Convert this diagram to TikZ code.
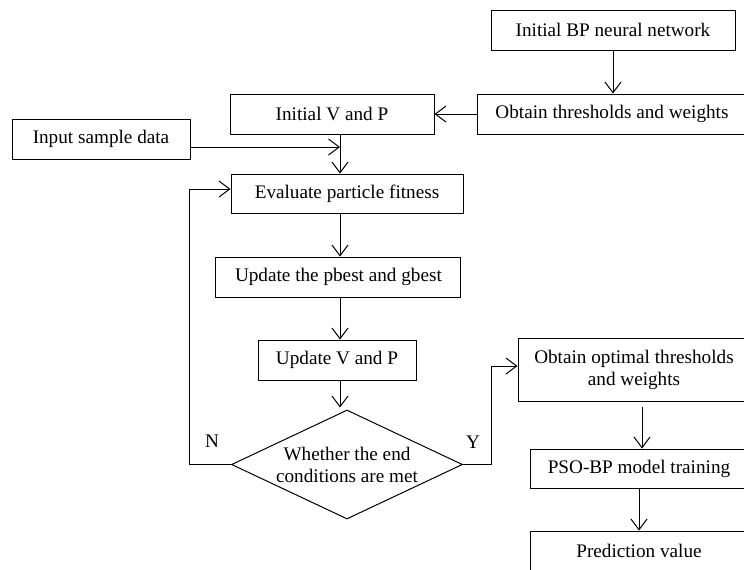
\documentclass[tikz,border=0pt]{standalone}
\usepackage{fontspec}
\setmainfont{Liberation Serif}
\usetikzlibrary{positioning,shapes.geometric,arrows.meta}

\begin{document}
\begin{tikzpicture}[x=0.75pt,y=-0.75pt,line width=0.75pt,
    >={Straight Barb[length=8pt,width=12pt]},
    every node/.style={font=\fontsize{14.4}{16.5}\selectfont},
    box/.style={draw,rectangle,minimum height=30pt,inner sep=2pt,align=center},
    decision/.style={draw,diamond,aspect=2,inner sep=-20pt,align=center}]
            \useasboundingbox (0,0) rectangle (744,569);
            \node[box,minimum width=183pt] (initbp) at (613,30) {Initial BP neural network};
            \node[box,minimum width=202.5pt,below=32.25pt of initbp,xshift=-0.75pt] (obtain) {Obtain thresholds and weights};
            \node[box,minimum width=153pt,left=31.5pt of obtain] (initvp) {Initial V and P};
            \node[box,minimum width=133.5pt] (input) at (101,139) {Input sample data};
            \node[box,minimum width=174pt,minimum height=29.25pt] (eval) at (347,193.5) {Evaluate particle fitness};
            \node[box,minimum width=183.75pt,below=32.25pt of eval,xshift=-6.4pt] (pbest) {Update the pbest and gbest};
            \node[box,minimum width=118.5pt,below=31.5pt of pbest,xshift=-1.1pt] (updvp) {Update V and P};
            \node[decision,minimum width=173.25pt,minimum height=81.75pt,below=21.75pt of updvp,xshift=7.5pt] (cond) {Whether the end\\conditions are met};
            \node[box,minimum width=174pt,minimum height=47.25pt] (optimal) at (634,369.5) {Obtain optimal thresholds\\and weights};
            \node[box,minimum width=163.5pt,minimum height=29.25pt,below=35.25pt of optimal,xshift=3.75pt] (train) {PSO-BP model training};
            \node[box,minimum width=163.5pt,below=31.5pt of train] (pred) {Prediction value};
            \node (nlab) at (212,441) {N};
            \node (ylab) at (473,442) {Y};
            \coordinate (join) at (340,147);
            \coordinate (back) at (189,189);
            \coordinate (fwd) at (491,366);
            \coordinate (drop) at (642,407);
            \draw[->] (initbp.south) -- (initbp.south |- obtain.north);
            \draw[->] (obtain.west) -- (obtain.west -| initvp.east);
            \draw[->] (input.east |- join) -- (join);
            \draw[->] (join |- initvp.south) -- (join |- eval.north);
            \draw[->] (join |- eval.south) -- (join |- pbest.north);
            \draw[->] (join |- pbest.south) -- (join |- updvp.north);
            \draw[->] (join |- updvp.south) -- ([yshift=1.5pt]join |- cond.north);
            \draw[->] (cond.west) -| (back) -- (back -| eval.west);
            \draw[->] (cond.east) -| (fwd) -- (fwd -| optimal.west);
            \draw[->] (drop) -- (drop |- train.north);
            \draw[->] (train.south) -- (pred.north);
        \end{tikzpicture}
\end{document}
